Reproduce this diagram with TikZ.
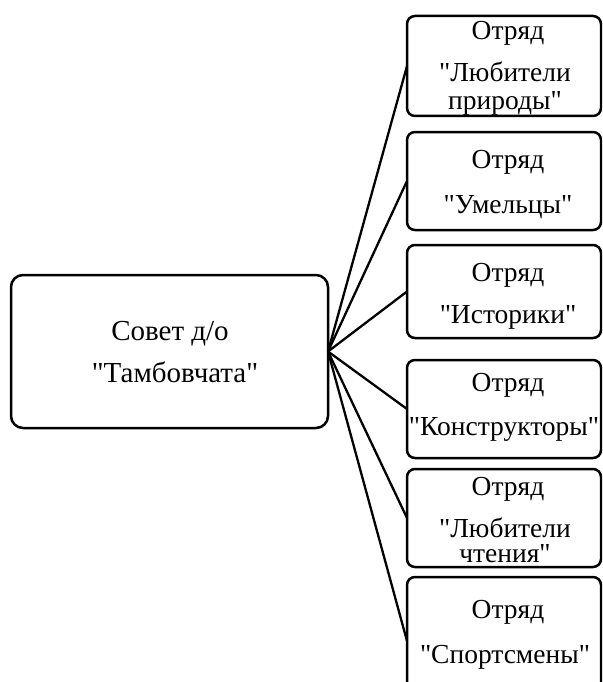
\documentclass[tikz,border=0pt]{standalone}
\usepackage{fontspec}
\setmainfont{Liberation Serif}[Ligatures=TeXOff]
\begin{document}
\begin{tikzpicture}[x=1pt,y=-1pt,
 box/.style={draw, line width=2.5pt, rounded corners=8pt, inner sep=0pt, outer sep=0pt},
 lbl/.style={anchor=base, inner sep=0pt, font=\fontsize{27.5}{27.5}\selectfont},
 mlbl/.style={anchor=base, inner sep=0pt, font=\fontsize{29}{29}\selectfont},
 conn/.style={line width=2.3pt}]
\useasboundingbox (0,0) rectangle (602,682);
\clip (0,0) rectangle (602,682);
\node[box, rounded corners=12pt, minimum width=317pt, minimum height=153pt] (main) at (169.5,351.5) {};
\node[box, minimum width=194pt, minimum height=100pt] (b1) at (504,66) {};
\node[box, minimum width=194pt, minimum height=98pt] (b2) at (504,181) {};
\node[box, minimum width=194pt, minimum height=93pt] (b3) at (504,291.5) {};
\node[box, minimum width=194pt, minimum height=98pt] (b4) at (504,409) {};
\node[box, minimum width=194pt, minimum height=98pt] (b5) at (504,518) {};
\node[box, minimum width=194pt, minimum height=128pt] (b6) at (504,641) {};
\foreach \b in {b1,b2,b3,b4,b5,b6} \draw[conn] (main.east) -- (\b.west);
\node[mlbl] (m1) at (170,340) {Совет д/о};
\node[mlbl] (m2) at (175,382) {"Тамбовчата"};
\node[lbl] (t1a) at (508,40) {Отряд};
\node[lbl] (t1b) at (505,82) {"Любители};
\node[lbl] (t1c) at (505,110) {природы"};
\node[lbl] (t2a) at (508,168) {Отряд};
\node[lbl] (t2b) at (508,213) {"Умельцы"};
\node[lbl] (t3a) at (508,281) {Отряд};
\node[lbl] (t3b) at (508,323) {"Историки"};
\node[lbl] (t4a) at (508,391) {Отряд};
\node[lbl] (t4b) at (504,435) {"Конструкторы"};
\node[lbl] (t5a) at (508,495) {Отряд};
\node[lbl] (t5b) at (505,537) {"Любители};
\node[lbl] (t5c) at (505,562) {чтения"};
\node[lbl] (t6a) at (508,618) {Отряд};
\node[lbl] (t6b) at (505,663) {"Спортсмены"};
\end{tikzpicture}
\end{document}
